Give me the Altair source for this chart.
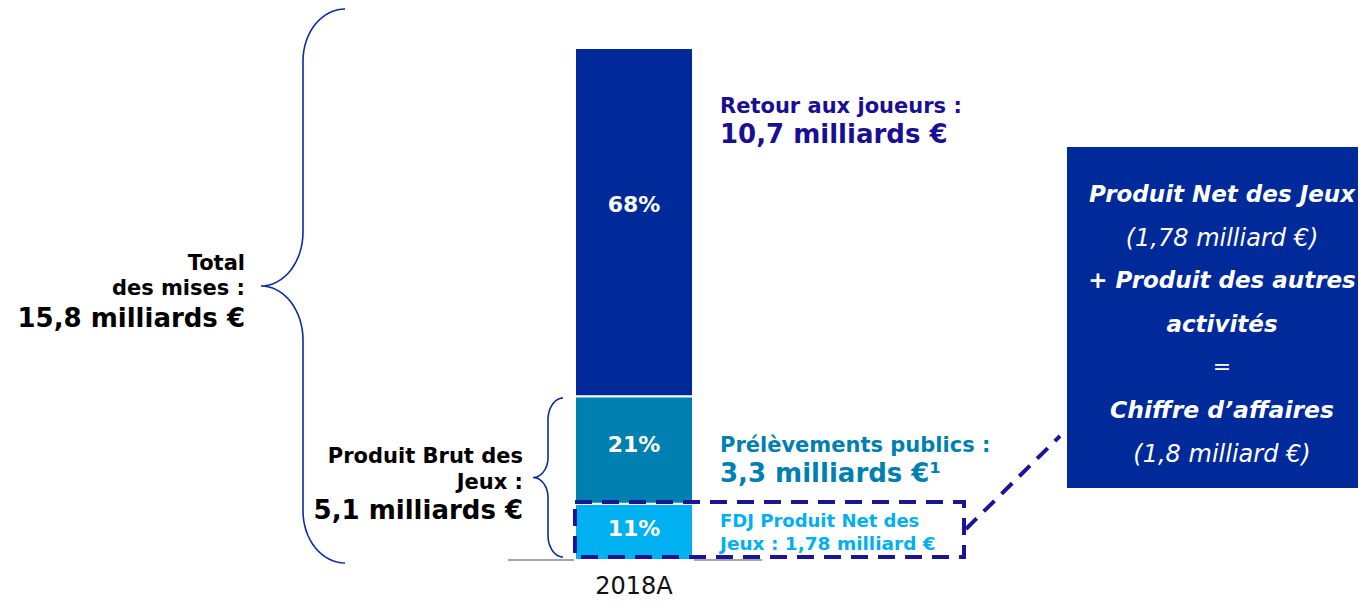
import math
import altair as alt
import pandas as pd

# ---------------- data ----------------
year = "2018A"
segments = ["FDJ Produit Net des Jeux", "Prélèvements publics", "Retour aux joueurs"]
shares = [11, 21, 68]
seg_colors = ["#00b0f0", "#0080b0", "#00299a"]
share_labels = ["11%", "21%", "68%"]

# ---------------- layout ----------------
W, H = 1350, 593
FONT = "DejaVu Sans"
Y_LO, Y_HI = -8.01, 107.81          # percent scale so 0% / 100% land at the bar foot / top
yscale = alt.Scale(domain=[Y_LO, Y_HI], nice=False, zero=False)
xband = alt.Scale(domain=[year], range=[567, 685], paddingInner=0, paddingOuter=0)
PX = alt.Scale(domain=[0, W], range=[0, W], nice=False, zero=False)
PY = alt.Scale(domain=[0, H], range=[0, H], nice=False, zero=False)

rows = []
cum = 0
for s, v, c, lab in zip(segments, shares, seg_colors, share_labels):
    rows.append({"year": year, "segment": s, "value": v, "start": cum, "end": cum + v,
                 "lab_y": cum + 0.55 * v, "label": lab})
    cum += v
df = pd.DataFrame(rows)

one = pd.DataFrame({"t": [""], "z": [0]})

baseline = alt.Chart(one).mark_rule(color="#a6a6a6", strokeWidth=2).encode(
    x=alt.value(500), x2=alt.value(754),
    y=alt.Y("z:Q", scale=yscale, axis=None))

bars = alt.Chart(df).mark_bar(stroke="white", strokeWidth=2).encode(
    x=alt.X("year:N", scale=xband, axis=None),
    y=alt.Y("start:Q", scale=yscale, axis=None),
    y2="end:Q",
    color=alt.Color("segment:N", scale=alt.Scale(domain=segments, range=seg_colors), legend=None),
)

pct = alt.Chart(df).mark_text(font=FONT, fontWeight="bold", fontSize=22, color="white",
                              baseline="middle").encode(
    x=alt.X("year:N", scale=xband, axis=None),
    y=alt.Y("lab_y:Q", scale=yscale, axis=None),
    text="label:N",
)

xlab = alt.Chart(pd.DataFrame({"year": [year]})).mark_text(
    font=FONT, fontSize=24, color="#111111", baseline="alphabetic").encode(
    x=alt.X("year:N", scale=xband, axis=None),
    y=alt.value(586),
    text="year:N",
)


def brace(x_end, x_mid, x_tip, y_top, y_bot, r_end, r_tip, n=16):
    yc = (y_top + y_bot) / 2
    pts = []
    rx = x_end - x_mid
    for k in range(n + 1):
        a = -math.pi / 2 - (math.pi / 2) * k / n
        pts.append((x_end + rx * math.cos(a), y_top + r_end + r_end * math.sin(a)))
    rx2 = x_mid - x_tip
    for k in range(n + 1):
        a = (math.pi / 2) * k / n
        pts.append((x_tip + rx2 * math.cos(a), yc - r_tip + r_tip * math.sin(a)))
    for k in range(n + 1):
        a = -math.pi / 2 + (math.pi / 2) * k / n
        pts.append((x_tip + rx2 * math.cos(a), yc + r_tip + r_tip * math.sin(a)))
    for k in range(n + 1):
        a = math.pi - (math.pi / 2) * k / n
        pts.append((x_end + rx * math.cos(a), y_bot - r_end + r_end * math.sin(a)))
    return pd.DataFrame({"x": [p[0] for p in pts], "y": [p[1] for p in pts],
                         "i": list(range(len(pts)))})


def brace_layer(d):
    return alt.Chart(d).mark_line(color="#0b2d9f", strokeWidth=1.6, interpolate="linear").encode(
        x=alt.X("x:Q", scale=PX, axis=None),
        y=alt.Y("y:Q", scale=PY, axis=None),
        order="i:Q",
    )


big_brace = brace_layer(brace(337, 295, 253, 1, 555, 52, 54))
small_brace = brace_layer(brace(555, 540, 525, 390, 549, 22, 20))


def txt(label, x, y, size, color, weight="bold", style="normal", align="left"):
    return alt.Chart(pd.DataFrame({"t": [label]})).mark_text(
        font=FONT, fontSize=size, fontWeight=weight, fontStyle=style, color=color,
        align=align, baseline="alphabetic").encode(
        x=alt.value(x), y=alt.value(y), text="t:N")


NAVY = "#1a0f92"
TEAL = "#0080b0"
LIGHT = "#00b0f0"
DASH = "#1a1496"

texts = [
    txt("Total", 237, 262, 21, "black", align="right"),
    txt("des mises :", 237, 287, 21, "black", align="right"),
    txt("15,8 milliards €", 237, 319, 26, "black", align="right"),
    txt("Produit Brut des", 515, 455, 21, "black", align="right"),
    txt("Jeux :", 515, 481, 21, "black", align="right"),
    txt("5,1 milliards €", 515, 511, 26, "black", align="right"),
    txt("Retour aux joueurs :", 712, 105, 21, NAVY),
    txt("10,7 milliards €", 712, 135, 26, NAVY),
    txt("Prélèvements publics :", 712, 444, 21, TEAL),
    txt("3,3 milliards €¹", 712, 474, 26, TEAL),
    txt("FDJ Produit Net des", 712, 519, 18, LIGHT),
    txt("Jeux : 1,78 milliard €", 712, 542, 18.5, LIGHT),
]

dash_box = alt.Chart(one).mark_rect(filled=False, stroke=DASH, strokeWidth=4,
                                    strokeDash=[17, 10]).encode(
    x=alt.value(567), x2=alt.value(956), y=alt.value(494), y2=alt.value(549))

dash_line = alt.Chart(one).mark_rule(color=DASH, strokeWidth=4, strokeDash=[15, 10]).encode(
    x=alt.value(958), x2=alt.value(1052), y=alt.value(521), y2=alt.value(428))

blue_box = alt.Chart(one).mark_rect(color="#00299a").encode(
    x=alt.value(1059), x2=alt.value(1377), y=alt.value(139), y2=alt.value(480))

BC = 1214
box_texts = [
    txt("Produit Net des Jeux", BC, 194, 23, "white", style="italic", align="center"),
    txt("(1,78 milliard €)", BC, 238, 24, "white", weight="normal", style="italic", align="center"),
    txt("+ Produit des autres", BC, 280, 23, "white", style="italic", align="center"),
    txt("activités", BC, 324, 23, "white", style="italic", align="center"),
    txt("=", BC, 366, 22, "white", weight="normal", align="center"),
    txt("Chiffre d’affaires", BC, 410, 23.5, "white", style="italic", align="center"),
    txt("(1,8 milliard €)", BC, 454, 24, "white", weight="normal", style="italic", align="center"),
]

chart = alt.layer(
    baseline, bars, pct, xlab, big_brace, small_brace, *texts,
    dash_box, dash_line, blue_box, *box_texts,
).resolve_scale(x="independent", y="independent", color="independent").properties(
    width=W, height=H, padding=0, autosize=alt.AutoSizeParams(type="none"),
).configure_view(stroke=None)

chart.save("out.html", embed_options={"renderer": "svg", "actions": False})
